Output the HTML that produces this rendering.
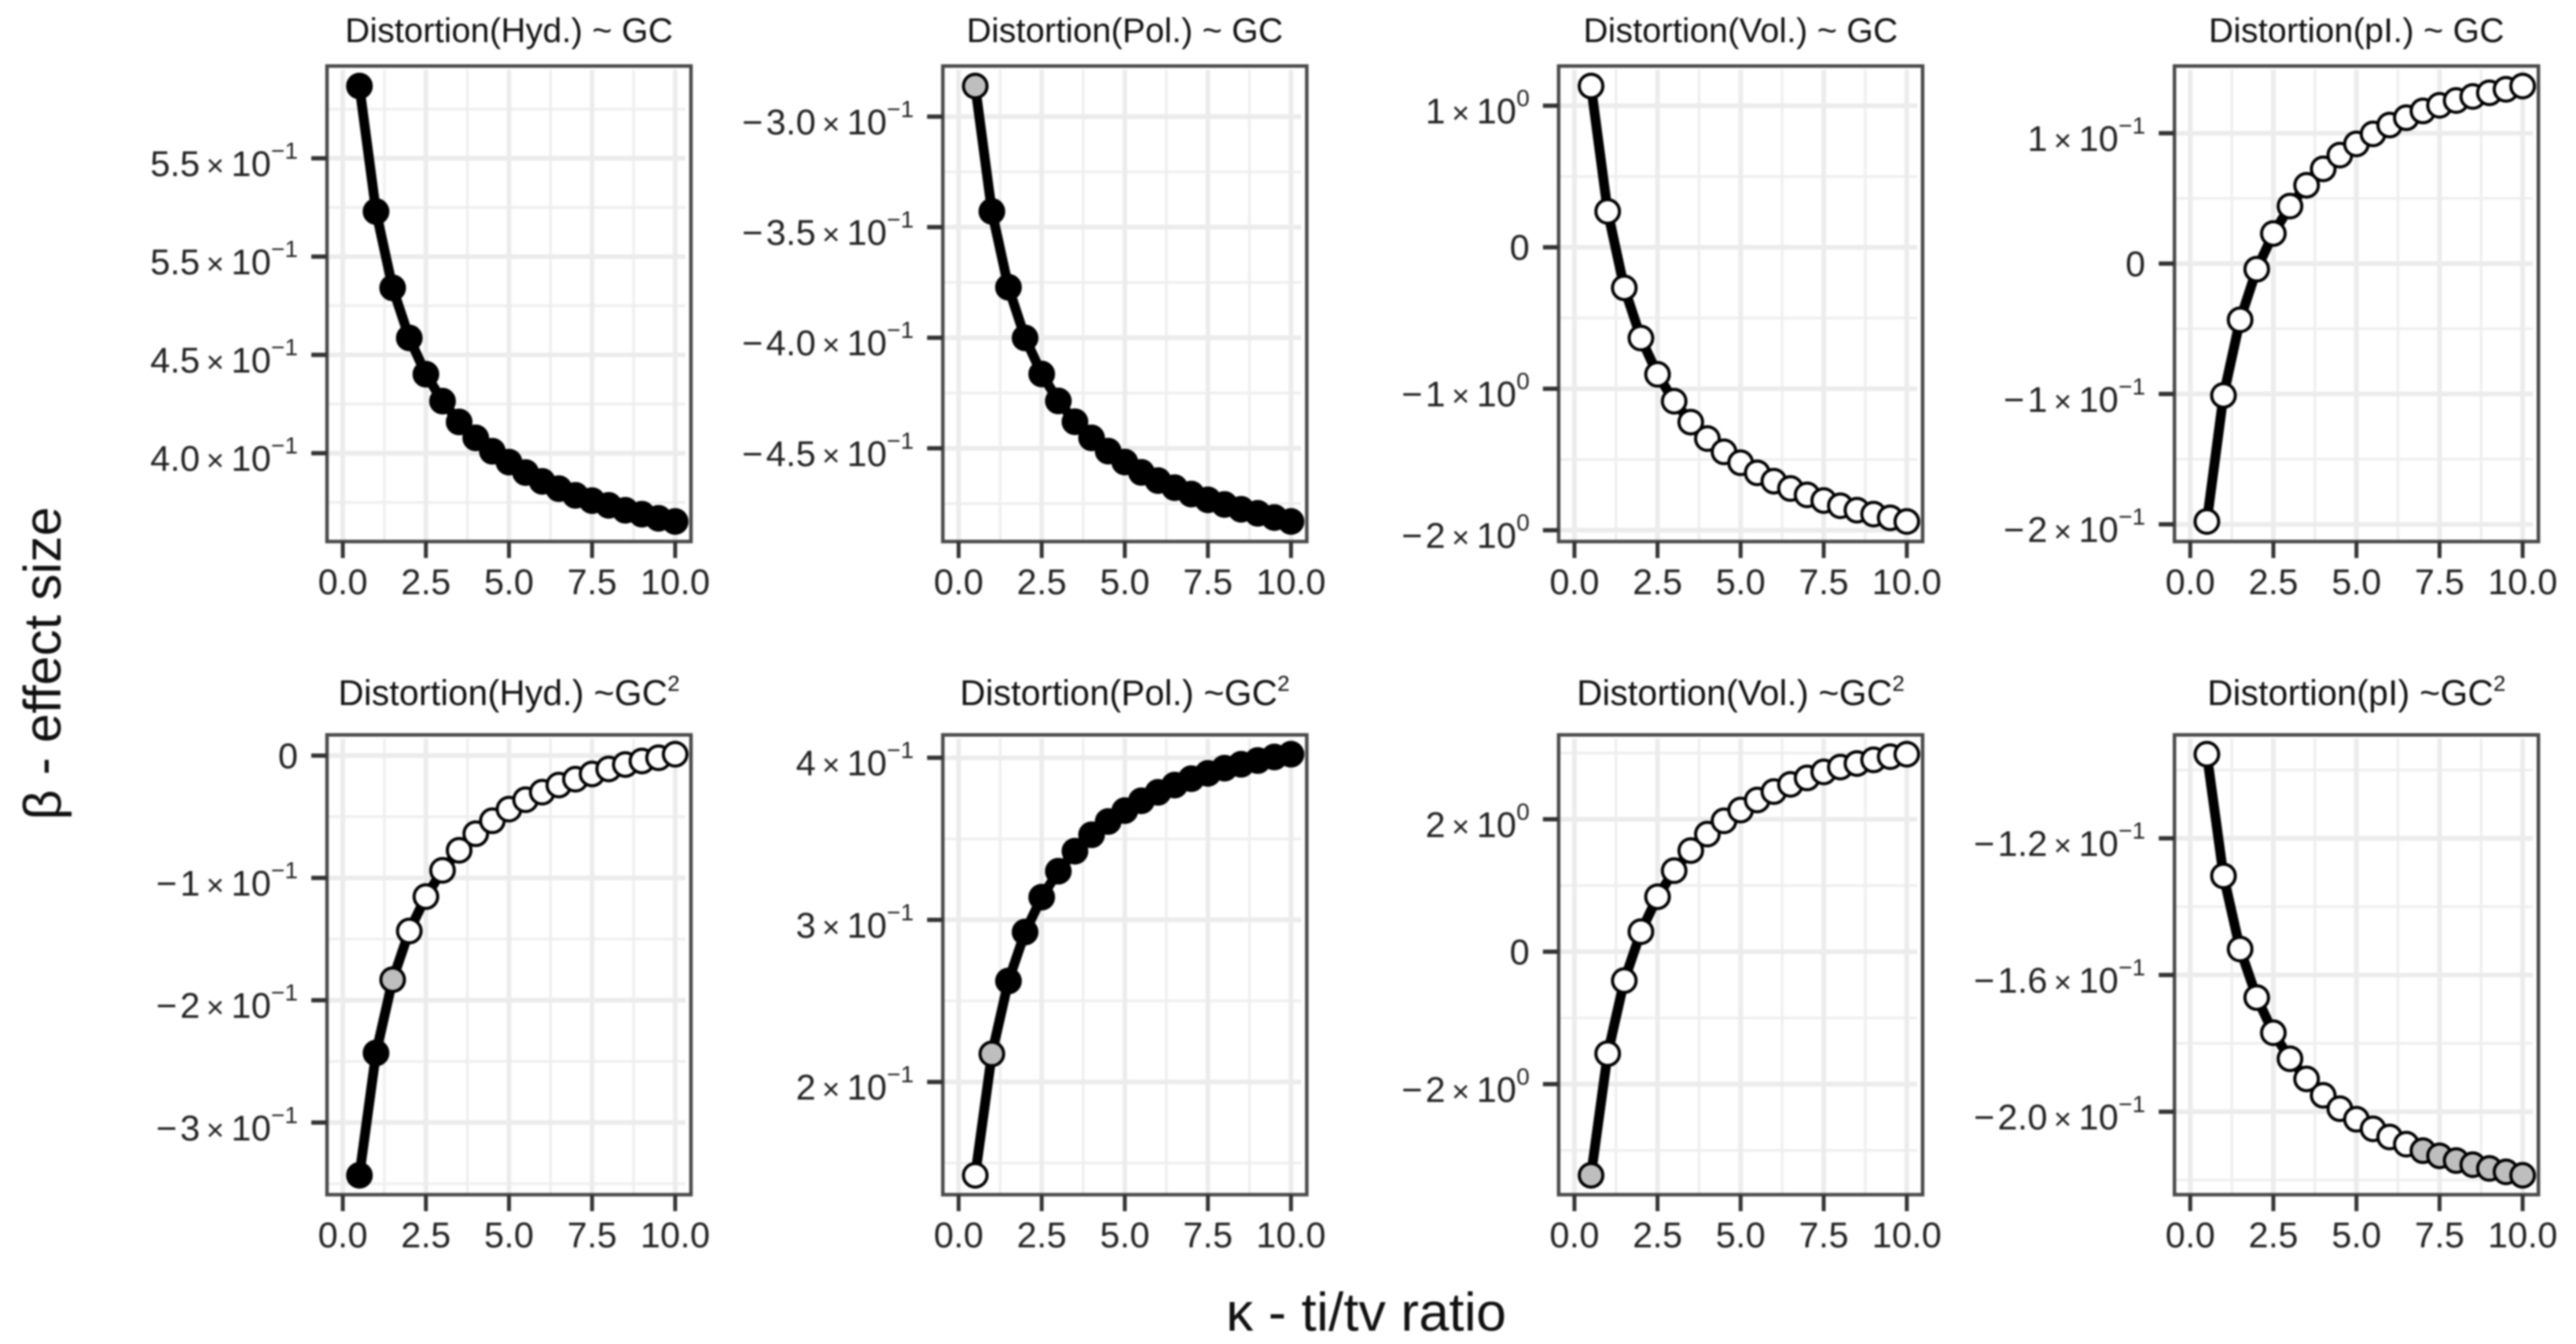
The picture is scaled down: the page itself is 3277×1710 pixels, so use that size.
<!DOCTYPE html>
<html lang="en">
<head>
<meta charset="utf-8">
<title>Effect size vs ti/tv ratio</title>
<style>
html,body{margin:0;padding:0;background:#fff;}
#chart{display:block;width:3277px;height:1710px;font-family:"Liberation Sans",sans-serif;filter:blur(1px);}
</style>
</head>
<body>
<svg id="chart" xmlns="http://www.w3.org/2000/svg" width="3277" height="1710" viewBox="0 0 3277 1710">
  <rect x="0" y="0" width="3277" height="1710" fill="#fff"/>
  <g id="panels"></g>
  <text x="1738" y="1693" font-size="69" text-anchor="middle" fill="#111">κ - ti/tv ratio</text>
  <text transform="translate(77,844) rotate(-90)" font-size="67" text-anchor="middle" fill="#111">β - effect size</text>
</svg>
<script>
// Shared x values
const kappaValues = [0.5,1,1.5,2,2.5,3,3.5,4,4.5,5,5.5,6,6.5,7,7.5,8,8.5,9,9.5,10];
const xTickValues = [0,2.5,5,7.5,10];
const xTickLabels = ["0.0","2.5","5.0","7.5","10.0"];

// Panel titles
const panelTitles = ["Distortion(Hyd.) ~ GC","Distortion(Pol.) ~ GC","Distortion(Vol.) ~ GC","Distortion(pI.) ~ GC","Distortion(Hyd.) ~GC","Distortion(Pol.) ~GC","Distortion(Vol.) ~GC","Distortion(pI) ~GC"];
const panelSlugs = ["hyd-gc","pol-gc","vol-gc","pi-gc","hyd-gc2","pol-gc2","vol-gc2","pi-gc2"];

// Series values (beta effect size)
const hydGc = [.5867,.5229,.4841,.4586,.4402,.4265,.4159,.4078,.4010,.3955,.3902,.3857,.3820,.3786,.3759,.3735,.3710,.3690,.3669,.3653];
const polGc = [-.2862,-.3429,-.3772,-.4001,-.4164,-.4286,-.4380,-.4453,-.4513,-.4562,-.4609,-.4646,-.4678,-.4707,-.4733,-.4754,-.4776,-.4794,-.4813,-.4831];
const volGc = [1.139,.253,-.287,-.642,-.898,-1.088,-1.236,-1.352,-1.446,-1.523,-1.594,-1.653,-1.705,-1.750,-1.790,-1.827,-1.858,-1.886,-1.912,-1.938];
const piGc = [-.1978,-.1011,-.0431,-.0043,.0231,.0441,.0601,.0727,.0832,.0918,.0995,.1063,.1119,.1171,.1214,.1251,.1282,.1310,.1337,.1362];
const hydGc2 = [-.3431,-.2431,-.1832,-.1434,-.1153,-.0938,-.0774,-.0639,-.0533,-.0438,-.0361,-.0299,-.0241,-.0193,-.0150,-.0109,-.0073,-.0044,-.0018,.0011];
const polGc2 = [.1424,.2173,.2623,.2925,.3140,.3300,.3424,.3525,.3607,.3674,.3735,.3787,.3832,.3871,.3904,.3936,.3960,.3983,.4005,.4022];
const volGc2 = [-3.376,-1.539,-.436,.303,.830,1.224,1.527,1.776,1.976,2.139,2.291,2.418,2.527,2.624,2.715,2.788,2.842,2.897,2.945,2.982];
const piGc2 = [-.0954,-.1310,-.1524,-.1666,-.1769,-.1845,-.1904,-.1952,-.1991,-.2022,-.2050,-.2074,-.2095,-.2114,-.2129,-.2143,-.2155,-.2166,-.2176,-.2186];

// Significance class of each point: k = black, g = grey, w = white
const hydGcClass = "kkkkkkkkkkkkkkkkkkkk";
const polGcClass = "gkkkkkkkkkkkkkkkkkkk";
const volGcClass = "wwwwwwwwwwwwwwwwwwww";
const piGcClass = "wwwwwwwwwwwwwwwwwwww";
const hydGc2Class = "kkgwwwwwwwwwwwwwwwww";
const polGc2Class = "wgkkkkkkkkkkkkkkkkkk";
const volGc2Class = "gwwwwwwwwwwwwwwwwwww";
const piGc2Class = "wwwwwwwwwwwwwggggggg";

// Y axis tick values
const hydGcTicks = [.55,.50,.45,.40];
const polGcTicks = [-.30,-.35,-.40,-.45];
const volGcTicks = [1,0,-1,-2];
const piGcTicks = [.1,0,-.1,-.2];
const hydGc2Ticks = [0,-.1,-.2,-.3];
const polGc2Ticks = [.4,.3,.2];
const volGc2Ticks = [2,0,-2];
const piGc2Ticks = [-.12,-.16,-.20];

// Y axis tick labels as [mantissa, exponent]; the first panel's labels are printed as in the source
const hydGcLabels = [["5.5","−1"],["5.5","−1"],["4.5","−1"],["4.0","−1"]];
const polGcLabels = [["−3.0","−1"],["−3.5","−1"],["−4.0","−1"],["−4.5","−1"]];
const volGcLabels = [["1","0"],["0",""],["−1","0"],["−2","0"]];
const piGcLabels = [["1","−1"],["0",""],["−1","−1"],["−2","−1"]];
const hydGc2Labels = [["0",""],["−1","−1"],["−2","−1"],["−3","−1"]];
const polGc2Labels = [["4","−1"],["3","−1"],["2","−1"]];
const volGc2Labels = [["2","0"],["0",""],["−2","0"]];
const piGc2Labels = [["−1.2","−1"],["−1.6","−1"],["−2.0","−1"]];

const allSeries = [hydGc,polGc,volGc,piGc,hydGc2,polGc2,volGc2,piGc2];
const allClasses = [hydGcClass,polGcClass,volGcClass,piGcClass,hydGc2Class,polGc2Class,volGc2Class,piGc2Class];
const allTicks = [hydGcTicks,polGcTicks,volGcTicks,piGcTicks,hydGc2Ticks,polGc2Ticks,volGc2Ticks,piGc2Ticks];
const allLabels = [hydGcLabels,polGcLabels,volGcLabels,piGcLabels,hydGc2Labels,polGc2Labels,volGc2Labels,piGc2Labels];

const NS = "http://www.w3.org/2000/svg";
const X_DOMAIN_MIN = -0.475, X_DOMAIN_MAX = 10.475, Y_EXPAND = 0.046;
const PANEL_W = 463, TICK_LEN = 20;
const INSET_L = 2, INSET_R = 7, INSET_T = 5, INSET_B = 2;
const COL_STEP = 783.4, FIRST_LEFT = 416;
const ROW_TOP = [84,935], ROW_H = [605,585];
const FILLS = {k:"#000", g:"#bebebe", w:"#fff"};
const LABEL_SIZE = 45.5;

function el(parent, tag, attrs){
  const e = document.createElementNS(NS, tag);
  for (const k in attrs) e.setAttribute(k, attrs[k]);
  parent.appendChild(e);
  return e;
}

const root = document.getElementById("panels");

function drawPanel(i){
  const col = i % 4, row = i < 4 ? 0 : 1;
  const left = FIRST_LEFT + col * COL_STEP, right = left + PANEL_W;
  const top = ROW_TOP[row], h = ROW_H[row], bottom = top + h;
  const values = allSeries[i];
  const lo = Math.min.apply(null, values), hi = Math.max.apply(null, values);
  const pad = (hi - lo) * Y_EXPAND;
  const yMin = lo - pad, yMax = hi + pad;
  const xScale = v => left + (v - X_DOMAIN_MIN) / (X_DOMAIN_MAX - X_DOMAIN_MIN) * PANEL_W;
  const yScale = v => bottom - (v - yMin) / (yMax - yMin) * h;

  const g = el(root, "g", {});
  
  

  // Minor grid
  const ticks = allTicks[i];
  const step = ticks[0] - ticks[1];
  const minorY = [ticks[0] + step / 2];
  ticks.forEach(t => minorY.push(t - step / 2));
  minorY.forEach(v => {
    const y = yScale(v);
    if (y < top + INSET_T || y > bottom - INSET_B) return;
    const l = el(g, "line", {x1:left+INSET_L, x2:right-INSET_R, y1:y, y2:y, stroke:"#efefef", "stroke-width":3.4});
    
    
  });
  [1.25,3.75,6.25,8.75].forEach(v => {
    const x = xScale(v);
    const l = el(g, "line", {x1:x, x2:x, y1:top+INSET_T, y2:bottom-INSET_B, stroke:"#efefef", "stroke-width":3.4});
    
    
  });

  // Major grid
  ticks.forEach(v => {
    const y = yScale(v);
    const l = el(g, "line", {x1:left+INSET_L, x2:right-INSET_R, y1:y, y2:y, stroke:"#ececec", "stroke-width":6});
    
    
  });
  xTickValues.forEach(v => {
    const x = xScale(v);
    const l = el(g, "line", {x1:x, x2:x, y1:top+INSET_T, y2:bottom-INSET_B, stroke:"#ececec", "stroke-width":6});
    
    
  });

  // Series line
  const pts = values.map((v, j) => xScale(kappaValues[j]).toFixed(1) + "," + yScale(v).toFixed(1)).join(" ");
  const line = el(g, "polyline", {points:pts, fill:"none", stroke:"#000", "stroke-width":12.5, "stroke-linejoin":"round"});
  
  

  // Points
  values.forEach((v, j) => {
    const c = el(g, "circle", {cx:xScale(kappaValues[j]), cy:yScale(v), r:15, fill:FILLS[allClasses[i][j]], stroke:"#000", "stroke-width":4});
    
    
  });

  // Panel border
  const border = el(g, "rect", {x:left, y:top, width:PANEL_W, height:h, fill:"none", stroke:"#4a4a4a", "stroke-width":4.5});
  
  

  // X ticks and labels
  xTickValues.forEach((v, j) => {
    const x = xScale(v);
    const t = el(g, "line", {x1:x, x2:x, y1:bottom, y2:bottom+TICK_LEN+1, stroke:"#333", "stroke-width":5});
    
    
    const lab = el(g, "text", {x:x, y:bottom+67, "font-size":LABEL_SIZE, "text-anchor":"middle", fill:"#222"});
    lab.textContent = xTickLabels[j];
    
    
  });

  // Y ticks and labels
  ticks.forEach((v, j) => {
    const y = yScale(v);
    const t = el(g, "line", {x1:left-TICK_LEN, x2:left, y1:y, y2:y, stroke:"#333", "stroke-width":5.5});
    
    
    const mant = allLabels[i][j][0], exp = allLabels[i][j][1];
    const lab = el(g, "text", {x:left-37, y:y+(exp===""?16:22.5), "font-size":LABEL_SIZE, "text-anchor":"end", fill:"#222"});
    
    
    if (mant.charAt(0) === "−" && exp !== "") {
      const sign = el(lab, "tspan", {});
      sign.textContent = "−";
      const digits = el(lab, "tspan", {dx:4});
      digits.textContent = mant.slice(1);
    } else {
      const m = el(lab, "tspan", {});
      m.textContent = mant;
    }
    if (exp !== "") {
      const times = el(lab, "tspan", {dx:8, "font-size":39});
      times.textContent = "×";
      const ten = el(lab, "tspan", {dx:9});
      ten.textContent = "10";
      const sup = el(lab, "tspan", {dy:-22, "font-size":30});
      sup.textContent = exp;
    }
  });

  // Title
  const title = el(g, "text", {x:left+PANEL_W/2, y: row===0 ? 53.5 : 897, "font-size": row===0 ? 43.5 : 45, "text-anchor":"middle", fill:"#111"});
  
  
  const tt = el(title, "tspan", {});
  tt.textContent = panelTitles[i];
  if (row === 1) {
    const s = el(title, "tspan", {dy:-18, "font-size":28});
    s.textContent = "2";
  }
}

for (let i = 0; i < 8; i++) drawPanel(i);
</script>
</body>
</html>
